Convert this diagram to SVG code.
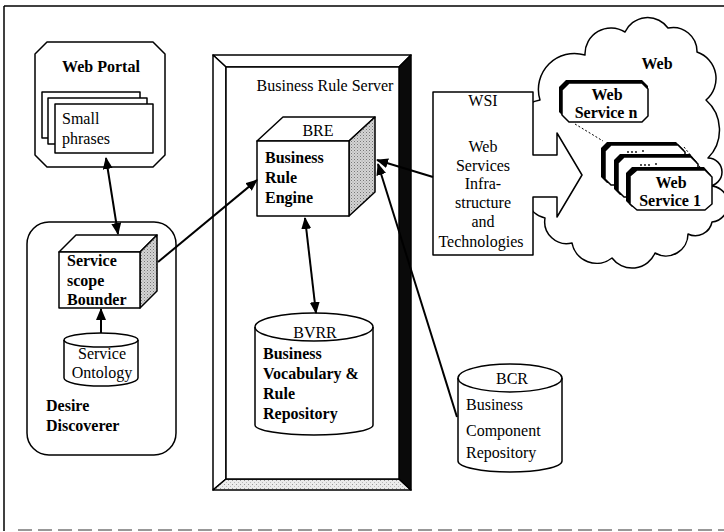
<svg xmlns="http://www.w3.org/2000/svg" width="724" height="532" viewBox="0 0 724 532">
<defs>
<style>
.b{font:bold 16px "Liberation Serif",serif;fill:#000}
.r{font:16px "Liberation Serif",serif;fill:#000}
.ln{fill:none;stroke:#000;stroke-width:1.5}
.sh{fill:#fff;stroke:#000;stroke-width:1.5;stroke-linejoin:round}
.con{fill:none;stroke:#000;stroke-width:2}
</style>
<pattern id="dots" width="3" height="3" patternUnits="userSpaceOnUse"><rect width="3" height="3" fill="#d4d4d4"/><rect width="1" height="1" fill="#777"/><rect x="1.5" y="1.5" width="1" height="1" fill="#999"/></pattern>
<pattern id="light" width="4" height="4" patternUnits="userSpaceOnUse"><rect width="4" height="4" fill="#ececec"/><rect width="1" height="1" fill="#999"/><rect x="2" y="2" width="1" height="1" fill="#bbb"/></pattern>
<marker id="ah" viewBox="0 0 12 10" refX="11" refY="5" markerWidth="12" markerHeight="10" markerUnits="userSpaceOnUse" orient="auto-start-reverse"><path d="M0,0 L12,5 L0,10 Z" fill="#000"/></marker>
</defs>
<rect width="724" height="532" fill="#fff"/>
<g id="frame">
<line x1="4" y1="6" x2="724" y2="6" stroke="#000" stroke-width="1.5"/>
<line x1="4" y1="6" x2="4" y2="531" stroke="#000" stroke-width="1.5"/>
<line x1="18" y1="530" x2="724" y2="530" stroke="#777" stroke-width="1.5" stroke-dasharray="14,6"/>
</g>
<g id="web-cloud">
<path class="sh" d="M533,165 A34,34 0 0 1 540,100 A36,36 0 0 1 585,55 A26,26 0 0 1 625,32 A25,25 0 0 1 668,28 A24,24 0 0 1 697,52 A28,28 0 0 1 706,100 A40,40 0 0 1 708,158 A14,14 0 0 1 708,186 A17,17 0 0 1 712,222 A17,17 0 0 1 688,234 A22,22 0 0 1 655,253 A25,25 0 0 1 612,258 A25,25 0 0 1 572,243 A22,22 0 0 1 545,218 A24,24 0 0 1 533,178 Z"/>
<text class="b" x="657" y="69" text-anchor="middle">Web</text>
</g>
<g id="web-service-n">
<path d="M566,80 H642 L648,86 V113 L642,119 H566 L559,112 V87 Z" fill="#000"/>
<path class="sh" d="M569,83 H642 L648,89 V116 L642,122 H569 L562,115 V90 Z" stroke-width="1.2"/>
<text class="b" x="607" y="100" text-anchor="middle">Web</text>
<text class="b" x="606" y="118" text-anchor="middle">Service n</text>
</g>
<g id="web-service-1">
<path d="M607,142 H676 L684,150 V178 L676,183 H607 L601,177 V148 Z" fill="#000"/>
<path class="sh" d="M611,145 H678 L685,152 V180 L678,185 H611 L605,179 V151 Z" stroke-width="1.2"/>
<path d="M620,154 H690 L697,162 V190 L690,195 H620 L614,189 V160 Z" fill="#000"/>
<path class="sh" d="M624,157 H691 L698,164 V192 L691,197 H624 L618,191 V163 Z" stroke-width="1.2"/>
<path d="M632,167 H704 L711,175 V203 L704,207 H632 L626,201 V173 Z" fill="#000"/>
<path class="sh" d="M637,170 H705 L712,177 V204 L705,210 H637 L630,204 V176 Z" stroke-width="1.2"/>
<g fill="#000"><circle cx="628" cy="152" r="0.9"/><circle cx="632" cy="152" r="0.9"/><circle cx="636" cy="152" r="0.9"/><circle cx="643" cy="151" r="0.9"/><circle cx="641" cy="165" r="0.9"/><circle cx="645" cy="165" r="0.9"/><circle cx="649" cy="165" r="0.9"/><circle cx="656" cy="164" r="0.9"/></g>
<line x1="684" y1="147" x2="700" y2="167" stroke="#000" stroke-width="1" stroke-dasharray="2,2"/>
<text class="b" x="671" y="188" text-anchor="middle">Web</text>
<text class="b" x="670" y="206" text-anchor="middle">Service 1</text>
</g>
<g id="wsi">
<path class="sh" d="M433,92 H533 V155 H557 V133 L582,175 L557,217 V197 H533 V255 H433 Z"/>
<text class="r" x="483" y="106" text-anchor="middle">WSI</text>
<text class="r" x="483" y="152" text-anchor="middle">Web</text>
<text class="r" x="483" y="171" text-anchor="middle">Services</text>
<text class="r" x="483" y="189" text-anchor="middle">Infra-</text>
<text class="r" x="483" y="208" text-anchor="middle">structure</text>
<text class="r" x="483" y="227" text-anchor="middle">and</text>
<text class="r" x="481" y="247" text-anchor="middle">Technologies</text>
</g>
<g id="web-portal">
<path class="sh" d="M47,42 H153 L165,54 V155 L153,167 H47 L35,155 V54 Z"/>
<text class="b" x="101" y="72" text-anchor="middle">Web Portal</text>
<rect class="sh" x="42" y="92" width="98" height="46" stroke-width="1.2"/>
<rect class="sh" x="48" y="98" width="99" height="46" stroke-width="1.2"/>
<rect class="sh" x="55" y="104" width="98" height="49" stroke-width="1.2"/>
<text class="r" x="62" y="124">Small</text>
<text class="r" x="62" y="144">phrases</text>
</g>
<g id="desire-discoverer">
<rect class="sh" x="27" y="222" width="149" height="233" rx="22"/>
<text class="b" x="46" y="411">Desire</text>
<text class="b" x="46" y="431">Discoverer</text>
</g>
<g id="service-scope-bounder">
<path class="sh" d="M59,252 L76,235 H157 L140,252 Z"/>
<path d="M140,252 L157,235 V291 L140,308 Z" fill="url(#dots)" stroke="#000" stroke-width="1.5" stroke-linejoin="round"/>
<rect class="sh" x="59" y="252" width="81" height="56"/>
<text class="b" x="67" y="266">Service</text>
<text class="b" x="67" y="286">scope</text>
<text class="b" x="67" y="305">Bounder</text>
</g>
<g id="service-ontology">
<path class="sh" d="M64,340 A37,7 0 0 1 138,340 V378 A37,8 0 0 1 64,378 Z"/>
<path class="ln" d="M64,340 A37,7 0 0 0 138,340"/>
<text class="r" x="102" y="359" text-anchor="middle">Service</text>
<text class="r" x="102" y="378" text-anchor="middle">Ontology</text>
</g>
<g id="business-rule-server">
<path d="M213,55 H411 L399,67 H226 Z" fill="#fff" stroke="#000" stroke-width="1.5" stroke-linejoin="round"/>
<path d="M213,55 L226,67 V479 L213,490 Z" fill="#fff" stroke="#000" stroke-width="1.5" stroke-linejoin="round"/>
<path d="M213,490 L226,479 H399 L411,490 Z" fill="url(#light)" stroke="#000" stroke-width="1.5" stroke-linejoin="round"/>
<path d="M411,55 L399,67 V479 L411,490 Z" fill="#0a0a0a" stroke="#000" stroke-width="1.5" stroke-linejoin="round"/>
<rect x="226" y="67" width="173" height="412" fill="#fff" stroke="#000" stroke-width="1.5"/>
<text class="r" x="325" y="91" text-anchor="middle" font-size="17">Business Rule Server</text>
</g>
<g id="bre">
<path class="sh" d="M257,141 L283,117 H375 L349,141 Z"/>
<path d="M349,141 L375,117 V192 L349,216 Z" fill="url(#dots)" stroke="#000" stroke-width="1.5" stroke-linejoin="round"/>
<rect class="sh" x="257" y="141" width="92" height="75"/>
<text class="r" x="318" y="136" text-anchor="middle">BRE</text>
<text class="b" x="265" y="163">Business</text>
<text class="b" x="265" y="183">Rule</text>
<text class="b" x="265" y="203">Engine</text>
</g>
<g id="bvrr">
<path class="sh" d="M255,327 A59,14 0 0 1 373,327 V425 A59,10 0 0 1 255,425 Z"/>
<path class="ln" d="M255,327 A59,14 0 0 0 373,327"/>
<text class="r" x="315" y="338" text-anchor="middle">BVRR</text>
<text class="b" x="263" y="359">Business</text>
<text class="b" x="263" y="379">Vocabulary &amp;</text>
<text class="b" x="263" y="399">Rule</text>
<text class="b" x="263" y="419">Repository</text>
</g>
<g id="bcr">
<path class="sh" d="M458,378 A52,14 0 0 1 562,378 V461 A52,11 0 0 1 458,461 Z"/>
<path class="ln" d="M458,378 A52,14 0 0 0 562,378"/>
<text class="r" x="512" y="384" text-anchor="middle">BCR</text>
<text class="r" x="466" y="410">Business</text>
<text class="r" x="466" y="436">Component</text>
<text class="r" x="466" y="458">Repository</text>
</g>
<g id="connectors">
<line class="con" x1="106" y1="158" x2="118" y2="234" marker-start="url(#ah)" marker-end="url(#ah)"/>
<line class="con" x1="101" y1="333" x2="101" y2="309" marker-end="url(#ah)"/>
<line class="con" x1="158" y1="262" x2="257" y2="180" marker-end="url(#ah)"/>
<line class="con" x1="305" y1="218" x2="316" y2="313" marker-start="url(#ah)" marker-end="url(#ah)"/>
<line class="con" x1="433" y1="177" x2="377" y2="160" marker-end="url(#ah)"/>
<line class="con" x1="457" y1="417" x2="378" y2="164" marker-end="url(#ah)"/>
<line x1="575" y1="124" x2="603" y2="141" stroke="#000" stroke-width="1" stroke-dasharray="2,2"/>
</g>
</svg>
